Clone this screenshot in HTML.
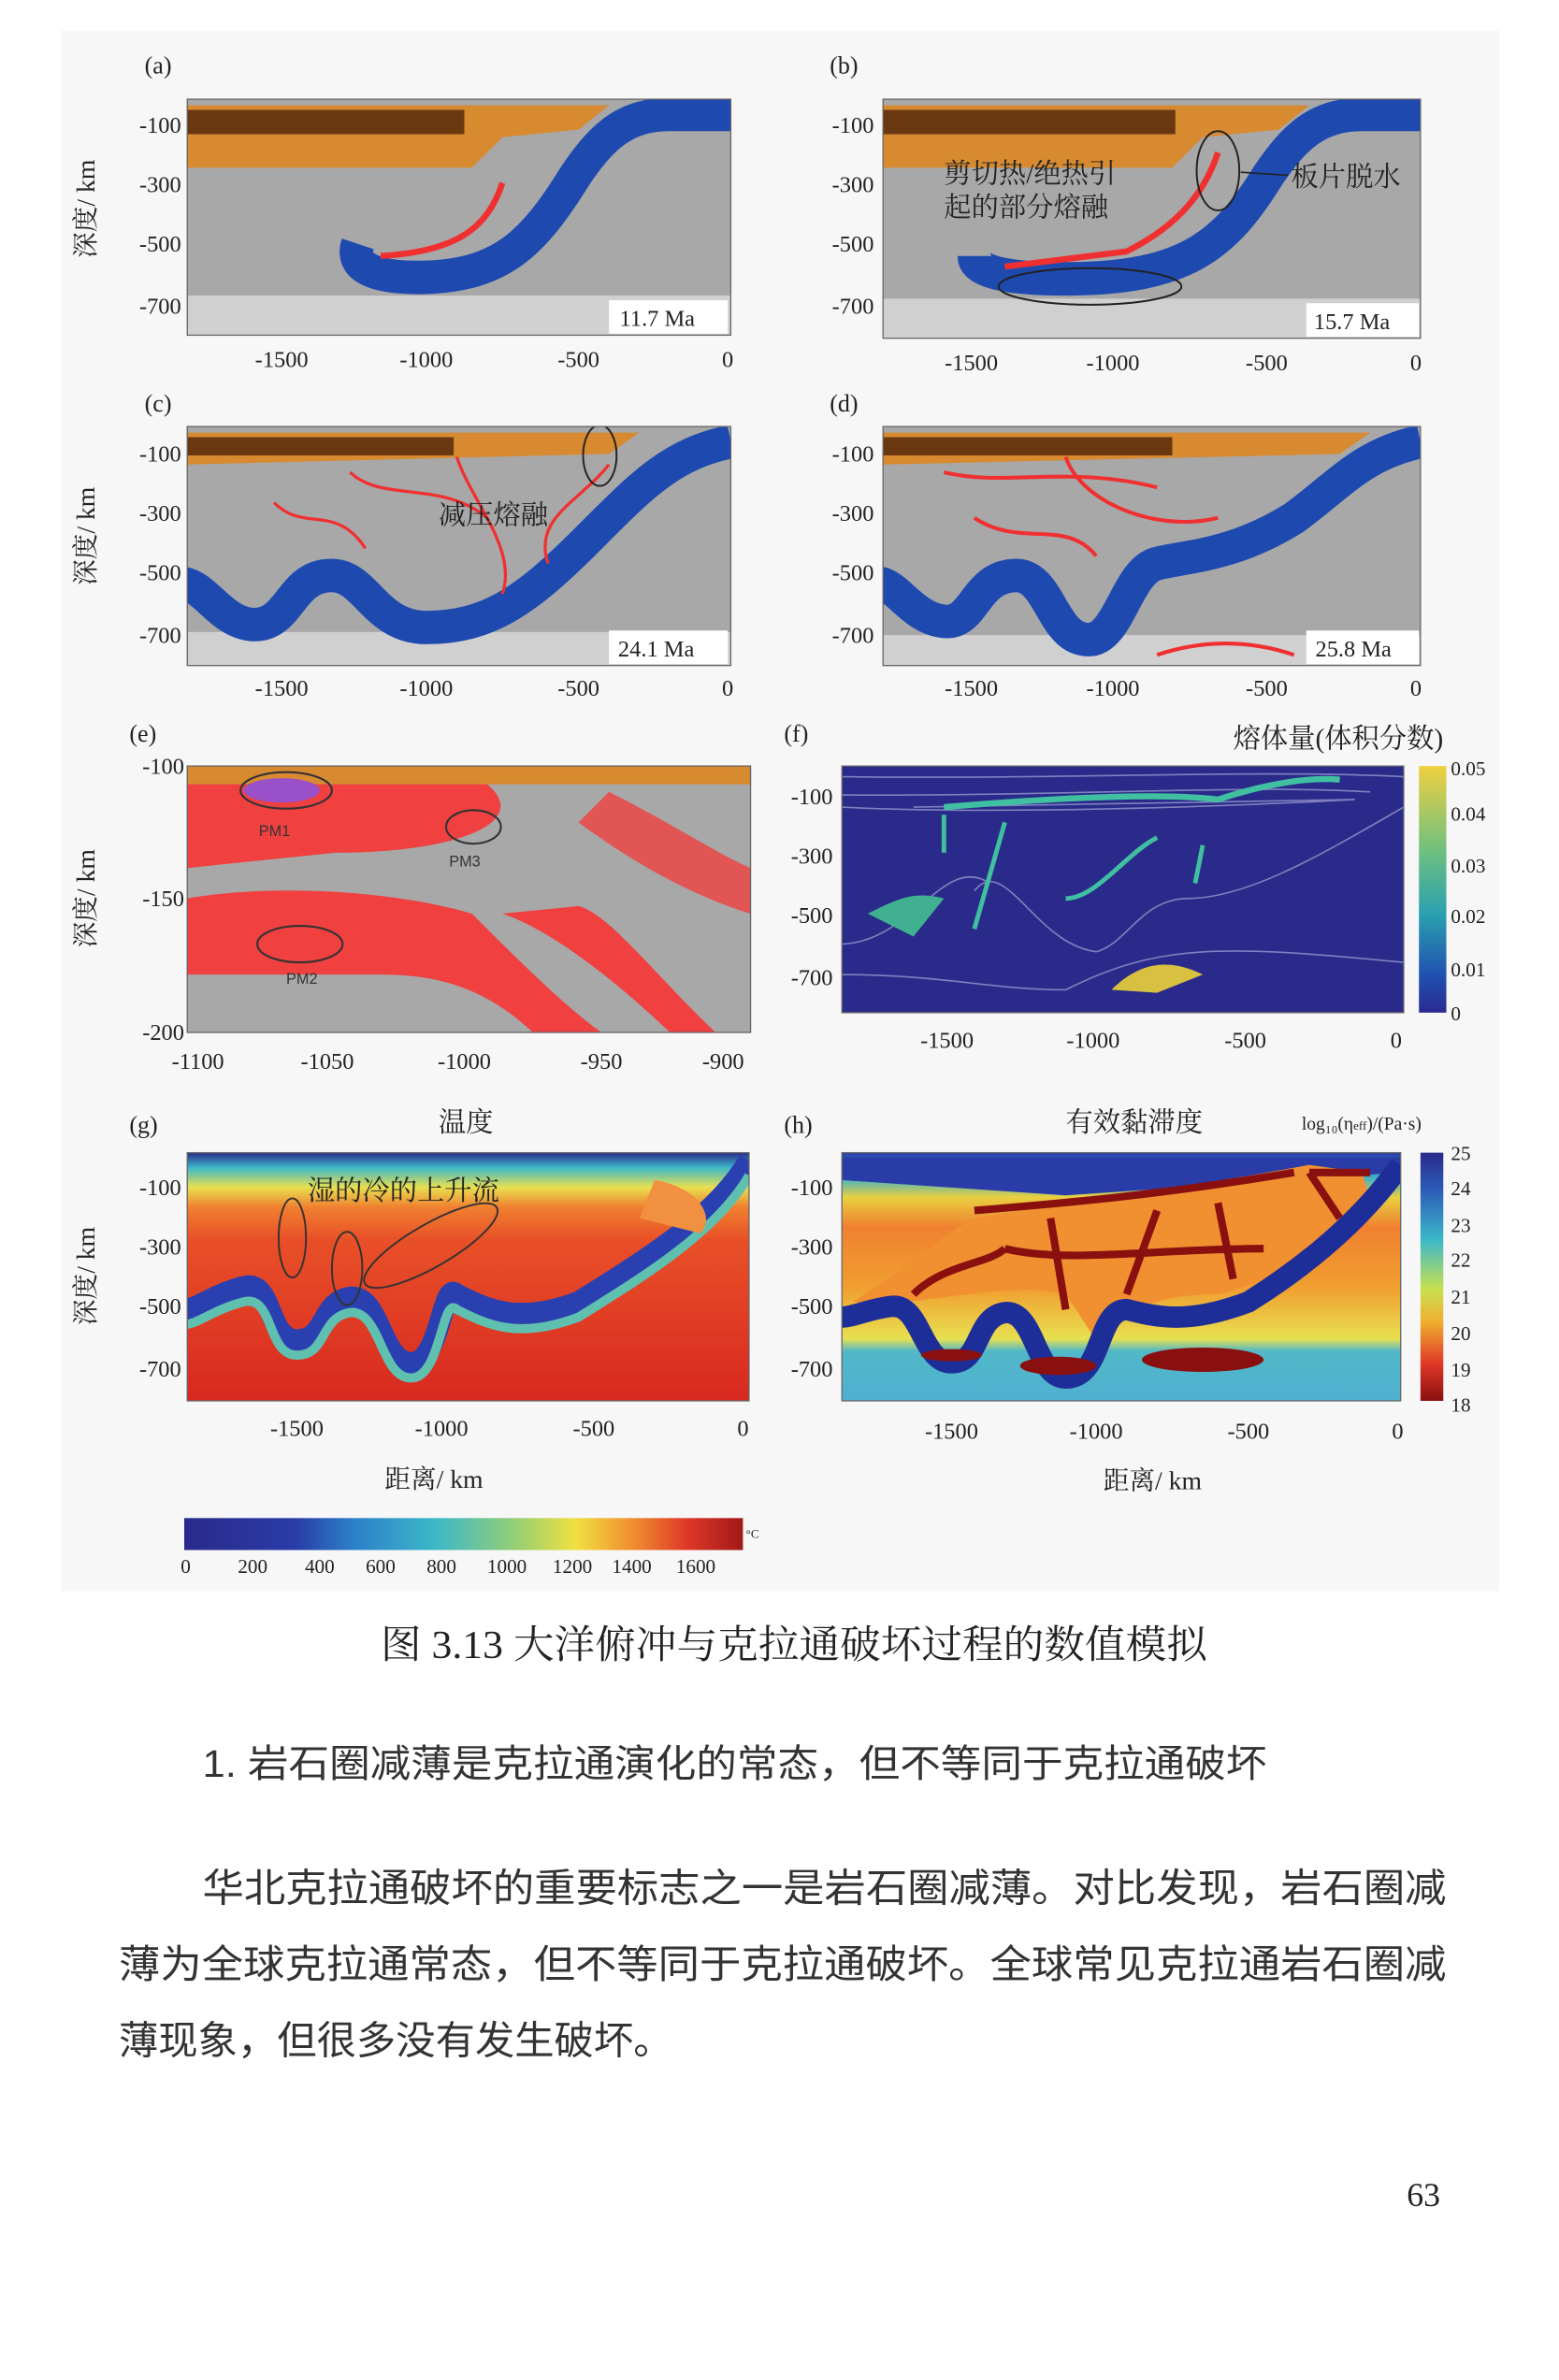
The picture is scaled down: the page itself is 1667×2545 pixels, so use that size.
<!DOCTYPE html>
<html><head><meta charset="utf-8">
<style>
html,body{margin:0;padding:0;background:#fff;}
svg{display:block;}
.t{font-family:"Liberation Serif","Noto Serif CJK SC",serif;fill:#222;}
.c{font-family:"Liberation Serif","Noto Serif CJK SC",serif;fill:#222;}
.s{font-family:"Liberation Sans","Noto Sans CJK SC",sans-serif;fill:#333;}
</style></head>
<body>
<svg width="1667" height="2545" viewBox="0 0 1024 1563" xmlns="http://www.w3.org/2000/svg">
<defs>
<linearGradient id="jet" x1="0" x2="1" y1="0" y2="0">
<stop offset="0" stop-color="#2a2a8a"/><stop offset="0.2" stop-color="#2a3ca8"/><stop offset="0.3" stop-color="#2c7fc8"/><stop offset="0.45" stop-color="#3cb8c8"/><stop offset="0.6" stop-color="#9ad070"/><stop offset="0.7" stop-color="#f0e040"/><stop offset="0.8" stop-color="#f09030"/><stop offset="0.9" stop-color="#e03828"/><stop offset="1" stop-color="#a01818"/>
</linearGradient>
<linearGradient id="jetv" x1="0" x2="0" y1="0" y2="1">
<stop offset="0" stop-color="#2a2a8a"/><stop offset="0.15" stop-color="#2c5cb8"/><stop offset="0.35" stop-color="#3cb8c8"/><stop offset="0.55" stop-color="#c8e050"/><stop offset="0.68" stop-color="#f0b030"/><stop offset="0.85" stop-color="#e03828"/><stop offset="1" stop-color="#8a1010"/>
</linearGradient>
<linearGradient id="vir" x1="0" x2="0" y1="0" y2="1">
<stop offset="0" stop-color="#f0d040"/><stop offset="0.35" stop-color="#6cc080"/><stop offset="0.6" stop-color="#2aa0b0"/><stop offset="0.85" stop-color="#2050b0"/><stop offset="1" stop-color="#2a2a90"/>
</linearGradient>
<linearGradient id="tg" x1="0" x2="0" y1="0" y2="1">
<stop offset="0" stop-color="#2a2a8a"/><stop offset="0.06" stop-color="#3cb8c8"/><stop offset="0.14" stop-color="#e8e050"/><stop offset="0.22" stop-color="#f08030"/><stop offset="0.35" stop-color="#e85028"/><stop offset="1" stop-color="#d82820"/>
</linearGradient>
<linearGradient id="hg" x1="0" x2="0" y1="0" y2="1">
<stop offset="0" stop-color="#2a3ca8"/><stop offset="0.1" stop-color="#40b0c8"/><stop offset="0.18" stop-color="#e8d040"/><stop offset="0.3" stop-color="#f08030"/><stop offset="0.55" stop-color="#f0a030"/><stop offset="0.75" stop-color="#e8e050"/><stop offset="0.8" stop-color="#50b8c8"/><stop offset="1" stop-color="#50b0d0"/>
</linearGradient>
<clipPath id="ca"><rect x="123" y="65" width="357" height="155"/></clipPath>
<clipPath id="cb"><rect x="580" y="65" width="353" height="157"/></clipPath>
<clipPath id="cc"><rect x="123" y="280" width="357" height="157"/></clipPath>
<clipPath id="cd"><rect x="580" y="280" width="353" height="157"/></clipPath>
<clipPath id="ce"><rect x="123" y="503" width="370" height="175"/></clipPath>
<clipPath id="cf"><rect x="553" y="503" width="369" height="162"/></clipPath>
<clipPath id="cg"><rect x="123" y="757" width="369" height="163"/></clipPath>
<clipPath id="ch"><rect x="553" y="757" width="367" height="163"/></clipPath>
</defs>
<rect x="40" y="20" width="945" height="1025" fill="#f7f7f7"/>

<!-- (a) -->
<text class="t" x="95" y="48" font-size="16">(a)</text>
<g clip-path="url(#ca)">
<rect x="123" y="65" width="357" height="155" fill="#a8a8a8"/>
<rect x="123" y="194" width="357" height="26" fill="#d0d0d0"/>
<path d="M123,69 L400,69 L380,85 L330,90 L310,110 L123,110Z" fill="#d88a30"/>
<rect x="123" y="72" width="182" height="16" fill="#6a3810"/>
<path d="M480,75 L440,75 C410,75 395,90 378,115 C350,160 330,180 280,182 C245,183 230,175 235,160" fill="none" stroke="#1e4ab0" stroke-width="22"/>
<path d="M330,120 C320,150 300,165 250,168" fill="none" stroke="#f03030" stroke-width="4"/>
<rect x="400" y="197" width="78" height="22" fill="#fff"/>
</g>
<text class="t" x="407" y="214" font-size="15">11.7 Ma</text>

<!-- (b) -->
<text class="t" x="545" y="48" font-size="16">(b)</text>
<g clip-path="url(#cb)">
<rect x="580" y="65" width="353" height="157" fill="#a8a8a8"/>
<rect x="580" y="196" width="353" height="26" fill="#d0d0d0"/>
<path d="M580,69 L860,69 L840,85 L790,90 L770,110 L580,110Z" fill="#d88a30"/>
<rect x="580" y="72" width="192" height="16" fill="#6a3810"/>
<path d="M933,75 L895,75 C865,75 850,90 833,115 C805,160 780,183 700,183 C660,183 640,178 640,168" fill="none" stroke="#1e4ab0" stroke-width="22"/>
<path d="M800,100 C790,130 770,150 740,165 L660,175" fill="none" stroke="#f03030" stroke-width="4"/>
<ellipse cx="716" cy="188" rx="60" ry="12" fill="none" stroke="#222" stroke-width="1.2"/>
<ellipse cx="800" cy="112" rx="14" ry="26" fill="none" stroke="#222" stroke-width="1.2"/>
<rect x="858" y="199" width="74" height="22" fill="#fff"/>
</g>
<text class="t" x="863" y="216" font-size="15">15.7 Ma</text>
<text class="t" x="620" y="120" font-size="18">剪切热/绝热引</text>
<text class="t" x="620" y="142" font-size="18">起的部分熔融</text>
<text class="t" x="848" y="122" font-size="18">板片脱水</text>
<line x1="846" y1="115" x2="815" y2="113" stroke="#222"/>

<!-- (c) -->
<text class="t" x="95" y="270" font-size="16">(c)</text>
<g clip-path="url(#cc)">
<rect x="123" y="280" width="357" height="157" fill="#a8a8a8"/>
<rect x="123" y="415" width="357" height="22" fill="#d0d0d0"/>
<path d="M123,284 L420,284 L400,298 L123,305Z" fill="#d88a30"/>
<rect x="123" y="287" width="175" height="12" fill="#6a3810"/>
<path d="M480,290 C440,298 420,320 385,355 C345,395 320,412 280,412 C245,412 240,375 215,378 C190,380 190,412 165,410 C145,408 135,385 120,383" fill="none" stroke="#1e4ab0" stroke-width="22"/>
<path d="M230,310 C250,330 290,315 320,340 M300,300 C310,330 340,360 330,390 M180,330 C200,350 220,330 240,360 M400,305 C380,330 350,340 360,370" fill="none" stroke="#f03030" stroke-width="2"/>
<ellipse cx="394" cy="299" rx="11" ry="20" fill="none" stroke="#222" stroke-width="1.2"/>
<rect x="400" y="414" width="78" height="22" fill="#fff"/>
</g>
<text class="t" x="406" y="431" font-size="15">24.1 Ma</text>
<text class="t" x="288" y="344" font-size="18">减压熔融</text>

<!-- (d) -->
<text class="t" x="545" y="270" font-size="16">(d)</text>
<g clip-path="url(#cd)">
<rect x="580" y="280" width="353" height="157" fill="#a8a8a8"/>
<rect x="580" y="417" width="353" height="20" fill="#d0d0d0"/>
<path d="M580,284 L900,284 L880,298 L580,305Z" fill="#d88a30"/>
<rect x="580" y="287" width="190" height="12" fill="#6a3810"/>
<path d="M933,290 C895,298 880,318 850,340 C810,365 780,365 760,370 C740,375 735,420 715,420 C690,420 690,375 665,378 C640,380 640,410 620,408 C600,406 590,385 578,383" fill="none" stroke="#1e4ab0" stroke-width="22"/>
<path d="M620,310 C660,320 700,305 760,320 M700,300 C710,330 760,350 800,340 M640,340 C670,360 700,340 720,365 M760,430 C790,420 820,420 850,430" fill="none" stroke="#f03030" stroke-width="2.5"/>
<rect x="858" y="414" width="74" height="22" fill="#fff"/>
</g>
<text class="t" x="864" y="431" font-size="15">25.8 Ma</text>

<!-- (e) -->
<text class="t" x="85" y="487" font-size="16">(e)</text>
<g clip-path="url(#ce)">
<rect x="123" y="503" width="370" height="175" fill="#a8a8a8"/>
<rect x="123" y="503" width="370" height="12" fill="#d88a30"/>
<path d="M123,515 L320,515 C350,540 300,560 220,560 L123,570Z" fill="#f04040"/>
<path d="M123,590 C180,580 260,585 310,600 C340,630 370,660 395,678 L350,678 C320,650 290,640 250,640 L123,640Z" fill="#f04040"/>
<path d="M330,600 C360,610 400,640 440,678 L470,678 C430,640 400,600 380,595Z" fill="#f04040"/>
<path d="M400,520 C440,540 470,560 493,570 L493,600 C460,590 420,570 380,540Z" fill="#f04040" opacity="0.8"/>
<ellipse cx="185" cy="519" rx="25" ry="8" fill="#9a50c8"/>
<ellipse cx="188" cy="519" rx="30" ry="12" fill="none" stroke="#333" stroke-width="1.3"/>
<ellipse cx="311" cy="543" rx="18" ry="11" fill="none" stroke="#333" stroke-width="1.3"/>
<ellipse cx="197" cy="620" rx="28" ry="12" fill="none" stroke="#333" stroke-width="1.3"/>
</g>
<text class="s" x="170" y="549" font-size="10">PM1</text>
<text class="s" x="295" y="569" font-size="10">PM3</text>
<text class="s" x="188" y="646" font-size="10">PM2</text>

<!-- (f) -->
<text class="t" x="515" y="487" font-size="16">(f)</text>
<text class="t" x="810" y="491" font-size="18">熔体量(体积分数)</text>
<g clip-path="url(#cf)">
<rect x="553" y="503" width="369" height="162" fill="#2a2a8a"/>
<path d="M553,510 C700,512 820,505 922,510 M553,522 C700,523 820,515 900,520 M553,530 C650,535 800,530 890,525 L600,530 M640,585 C660,560 680,620 720,625 C740,620 750,590 780,590 C820,590 870,560 922,530 M553,620 C600,618 620,560 650,580 M553,640 C620,640 650,650 700,650 C760,620 800,620 922,632" fill="none" stroke="#8080c0" stroke-width="1"/>
<path d="M620,530 C680,525 760,520 800,525 C830,515 860,510 880,512" fill="none" stroke="#40c0a0" stroke-width="4"/>
<path d="M570,600 C590,590 600,585 620,590 L600,615 Z" fill="#40b090"/>
<path d="M730,650 C750,630 770,630 790,640 L760,652Z" fill="#d8c040"/>
<path d="M620,535 L620,560 M660,540 L640,610 M760,550 C740,560 720,590 700,590 M790,555 L785,580" fill="none" stroke="#40c0a0" stroke-width="3"/>
</g>
<rect x="932" y="503" width="18" height="162" fill="url(#vir)"/>
<g class="t" font-size="13">
<text x="953" y="509">0.05</text><text x="953" y="539">0.04</text><text x="953" y="573">0.03</text><text x="953" y="606">0.02</text><text x="953" y="641">0.01</text><text x="953" y="670">0</text>
</g>

<!-- (g) -->
<text class="t" x="85" y="744" font-size="16">(g)</text>
<text class="t" x="288" y="743" font-size="18">温度</text>
<g clip-path="url(#cg)">
<rect x="123" y="757" width="369" height="163" fill="url(#tg)"/>
<path d="M492,762 C470,800 420,830 380,855 C340,870 320,860 300,850 C290,840 290,895 270,895 C250,895 250,850 230,852 C210,855 215,880 195,880 C175,880 180,840 160,845 C140,850 130,860 120,860" fill="none" stroke="#2a40b0" stroke-width="14"/>
<path d="M492,762 C470,800 420,830 380,855 C340,870 320,860 300,850 C290,840 290,895 270,895 C250,895 250,850 230,852 C210,855 215,880 195,880 C175,880 180,840 160,845 C140,850 130,860 120,860" fill="none" stroke="#60c0b0" stroke-width="6" transform="translate(0,10)"/>
<path d="M430,775 C460,780 470,800 460,810 L420,800Z" fill="#f09040"/>
<ellipse cx="192" cy="813" rx="9" ry="26" fill="none" stroke="#333" stroke-width="1.2"/>
<ellipse cx="228" cy="833" rx="10" ry="24" fill="none" stroke="#333" stroke-width="1.2"/>
<ellipse cx="283" cy="818" rx="50" ry="14" transform="rotate(-30 283 818)" fill="none" stroke="#333" stroke-width="1.2"/>
</g>
<text class="t" x="202" y="788" font-size="18">湿的冷的上升流</text>
<rect x="121" y="997" width="367" height="21" fill="url(#jet)"/>
<text class="t" x="490" y="1010" font-size="8">°C</text>
<g class="t" font-size="13" text-anchor="middle">
<text x="122" y="1033">0</text><text x="166" y="1033">200</text><text x="210" y="1033">400</text><text x="250" y="1033">600</text><text x="290" y="1033">800</text><text x="333" y="1033">1000</text><text x="376" y="1033">1200</text><text x="415" y="1033">1400</text><text x="457" y="1033">1600</text>
</g>

<!-- (h) -->
<text class="t" x="515" y="744" font-size="16">(h)</text>
<text class="t" x="700" y="743" font-size="18">有效黏滞度</text>
<text class="t" x="855" y="742" font-size="12">log₁₀(η<tspan font-size="8">eff</tspan>)/(Pa·s)</text>
<g clip-path="url(#ch)">
<rect x="553" y="757" width="367" height="163" fill="url(#hg)"/>
<path d="M553,760 L920,760 L920,770 L700,785 L553,775Z" fill="#2a3ca8"/>
<path d="M640,800 C700,790 780,780 860,765 L895,770 L900,790 C870,820 840,840 800,850 C760,850 740,860 720,880 L700,850 C660,840 600,860 560,855 C600,830 620,810 640,800Z" fill="#f09030"/>
<path d="M640,795 C700,790 760,785 850,770 M690,800 L700,860 M760,795 L740,850 M800,790 L810,840 M660,820 C700,830 760,820 830,820 M860,770 L880,800 M600,850 C620,830 650,830 660,820 M860,770 L900,770" fill="none" stroke="#8a1010" stroke-width="5"/>
<path d="M920,765 C895,800 860,830 820,855 C780,870 760,865 740,860 C720,860 725,905 700,905 C680,905 680,860 660,862 C640,865 645,895 625,895 C605,895 605,855 585,858 C570,860 560,865 553,865" fill="none" stroke="#1e2e98" stroke-width="14"/>
<ellipse cx="790" cy="893" rx="40" ry="8" fill="#8a1010"/>
<ellipse cx="695" cy="897" rx="25" ry="6" fill="#8a1010"/>
<ellipse cx="625" cy="890" rx="20" ry="4" fill="#8a1010"/>
</g>
<rect x="933" y="757" width="15" height="163" fill="url(#jetv)"/>
<g class="t" font-size="13">
<text x="953" y="762">25</text><text x="953" y="785">24</text><text x="953" y="809">23</text><text x="953" y="832">22</text><text x="953" y="856">21</text><text x="953" y="880">20</text><text x="953" y="904">19</text><text x="953" y="927">18</text>
</g>

<!-- axis frames -->
<g fill="none" stroke="#666" stroke-width="0.8">
<rect x="123" y="65" width="357" height="155"/><rect x="580" y="65" width="353" height="157"/>
<rect x="123" y="280" width="357" height="157"/><rect x="580" y="280" width="353" height="157"/>
<rect x="123" y="503" width="370" height="175"/><rect x="553" y="503" width="369" height="162"/>
<rect x="123" y="757" width="369" height="163"/><rect x="553" y="757" width="367" height="163"/>
</g>

<!-- y labels -->
<g class="t" font-size="15" text-anchor="end">
<text x="119" y="87">-100</text><text x="119" y="126">-300</text><text x="119" y="165">-500</text><text x="119" y="206">-700</text>
<text x="574" y="87">-100</text><text x="574" y="126">-300</text><text x="574" y="165">-500</text><text x="574" y="206">-700</text>
<text x="119" y="303">-100</text><text x="119" y="342">-300</text><text x="119" y="381">-500</text><text x="119" y="422">-700</text>
<text x="574" y="303">-100</text><text x="574" y="342">-300</text><text x="574" y="381">-500</text><text x="574" y="422">-700</text>
<text x="121" y="508">-100</text><text x="121" y="595">-150</text><text x="121" y="683">-200</text>
<text x="547" y="528">-100</text><text x="547" y="567">-300</text><text x="547" y="606">-500</text><text x="547" y="647">-700</text>
<text x="119" y="785">-100</text><text x="119" y="824">-300</text><text x="119" y="863">-500</text><text x="119" y="904">-700</text>
<text x="547" y="785">-100</text><text x="547" y="824">-300</text><text x="547" y="863">-500</text><text x="547" y="904">-700</text>
</g>
<!-- x labels -->
<g class="t" font-size="15" text-anchor="middle">
<text x="185" y="241">-1500</text><text x="280" y="241">-1000</text><text x="380" y="241">-500</text><text x="478" y="241">0</text>
<text x="638" y="243">-1500</text><text x="731" y="243">-1000</text><text x="832" y="243">-500</text><text x="930" y="243">0</text>
<text x="185" y="457">-1500</text><text x="280" y="457">-1000</text><text x="380" y="457">-500</text><text x="478" y="457">0</text>
<text x="638" y="457">-1500</text><text x="731" y="457">-1000</text><text x="832" y="457">-500</text><text x="930" y="457">0</text>
<text x="130" y="702">-1100</text><text x="215" y="702">-1050</text><text x="305" y="702">-1000</text><text x="395" y="702">-950</text><text x="475" y="702">-900</text>
<text x="622" y="688">-1500</text><text x="718" y="688">-1000</text><text x="818" y="688">-500</text><text x="917" y="688">0</text>
<text x="195" y="943">-1500</text><text x="290" y="943">-1000</text><text x="390" y="943">-500</text><text x="488" y="943">0</text>
<text x="625" y="945">-1500</text><text x="720" y="945">-1000</text><text x="820" y="945">-500</text><text x="918" y="945">0</text>
</g>
<g class="t" font-size="17" text-anchor="middle">
<text transform="translate(62,137) rotate(-90)">深度/ km</text>
<text transform="translate(62,352) rotate(-90)">深度/ km</text>
<text transform="translate(62,590) rotate(-90)">深度/ km</text>
<text transform="translate(62,838) rotate(-90)">深度/ km</text>
<text x="285" y="977">距离/ km</text>
<text x="757" y="978">距离/ km</text>
</g>

<!-- captions / body -->
<text class="c" x="250" y="1089" font-size="26" textLength="543" lengthAdjust="spacingAndGlyphs">图 3.13 大洋俯冲与克拉通破坏过程的数值模拟</text>
<text class="s" x="133" y="1167" font-size="25" textLength="699" lengthAdjust="spacingAndGlyphs">1. 岩石圈减薄是克拉通演化的常态，但不等同于克拉通破坏</text>
<text class="s" x="133" y="1249" font-size="26" textLength="817" lengthAdjust="spacingAndGlyphs">华北克拉通破坏的重要标志之一是岩石圈减薄。对比发现，岩石圈减</text>
<text class="s" x="78" y="1299" font-size="26" textLength="872" lengthAdjust="spacingAndGlyphs">薄为全球克拉通常态，但不等同于克拉通破坏。全球常见克拉通岩石圈减</text>
<text class="s" x="78" y="1349" font-size="26" textLength="364" lengthAdjust="spacingAndGlyphs">薄现象，但很多没有发生破坏。</text>
<text class="t" x="935" y="1449" font-size="22" text-anchor="middle">63</text>
</svg>
</body></html>
